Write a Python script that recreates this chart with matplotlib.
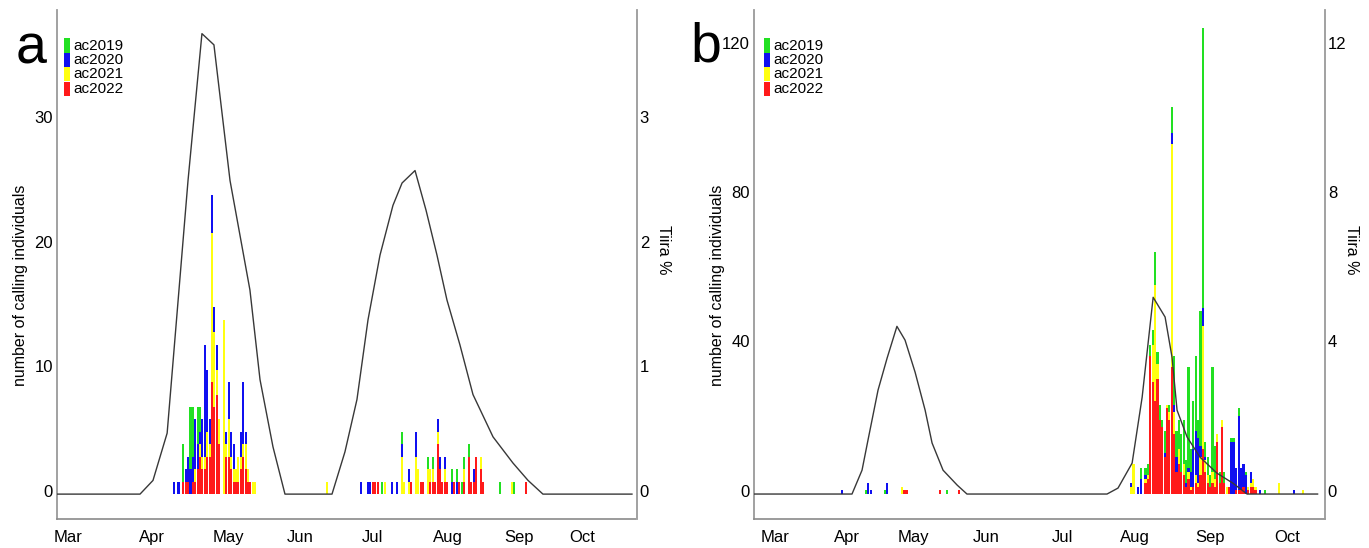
import matplotlib
matplotlib.use('Agg')
import matplotlib.pyplot as plt
from matplotlib.patches import Rectangle
from matplotlib.transforms import ScaledTranslation
import numpy as np

plt.rcParams['font.family'] = ['Liberation Sans', 'DejaVu Sans']

W, H = 1369, 548

years = ['ac2019', 'ac2020', 'ac2021', 'ac2022']
year_colors = ['#22e022', '#1010f0', '#ffff10', '#ff1a1a']
month_labels = ['Mar', 'Apr', 'May', 'Jun', 'Jul', 'Aug', 'Sep', 'Oct']

# ---------------- panel a ----------------
# day index counted from 1 March
a_days = [44, 46, 48, 49, 50, 51, 52, 53, 54, 55, 56, 57, 58, 59, 60, 61, 62, 63, 65, 66,
          67, 68, 69, 70, 71, 72, 73, 74, 75, 76, 77, 78,
          108, 122, 125, 126, 127, 128, 129, 131, 132, 135, 137, 139, 140, 142, 143, 145,
          146, 147, 148, 150, 151, 152, 153, 154, 155, 156, 157, 158, 160, 161, 162, 163,
          164, 165, 167, 168, 169, 170, 172, 173, 180, 185, 186, 191]
a_2022 = [0, 0, 1, 1, 1, 0, 1, 1, 2, 3, 2, 2, 3, 3, 9, 7, 8, 4, 0, 3, 3, 2, 1, 1, 1, 2, 3, 2, 1, 1, 0, 0,
          0, 0, 0, 0, 1, 1, 1, 0, 0, 0, 0, 0, 0, 0, 1, 0, 0, 1, 1, 0, 1, 1, 1, 4, 2, 1, 1, 1, 0, 1,
          0, 1, 0, 1, 3, 1, 1, 3, 2, 1, 0, 0, 0, 1]
a_2021 = [0, 0, 0, 0, 0, 0, 0, 1, 0, 1, 1, 1, 2, 1, 12, 6, 2, 2, 14, 1, 3, 1, 1, 1, 2, 1, 1, 2, 1, 0, 1, 1,
          1, 0, 0, 0, 0, 0, 0, 0, 1, 0, 0, 3, 1, 1, 0, 3, 2, 0, 0, 2, 1, 1, 0, 1, 0, 0, 1, 0, 0, 0,
          0, 0, 0, 1, 0, 0, 0, 0, 1, 0, 0, 1, 0, 0]
a_2020 = [1, 1, 0, 1, 2, 2, 2, 4, 2, 1, 3, 9, 5, 2, 3, 2, 2, 0, 0, 1, 3, 2, 2, 0, 0, 2, 5, 1, 0, 0, 0, 0,
          0, 1, 1, 1, 0, 0, 0, 0, 0, 1, 1, 1, 0, 1, 0, 2, 0, 0, 0, 0, 0, 0, 0, 1, 1, 0, 1, 0, 1, 0,
          1, 0, 0, 0, 0, 0, 1, 0, 0, 0, 0, 0, 0, 0]
a_2019 = [0, 0, 3, 0, 0, 5, 4, 0, 3, 2, 0, 0, 0, 0, 0, 0, 0, 0, 0, 0, 0, 0, 0, 0, 0, 0, 0, 0, 0, 0, 0, 0,
          0, 0, 0, 0, 0, 0, 0, 1, 0, 0, 0, 1, 0, 0, 0, 0, 0, 0, 0, 1, 0, 1, 0, 0, 0, 0, 0, 0, 1, 0,
          1, 0, 1, 1, 1, 0, 0, 0, 0, 0, 1, 0, 1, 0]
a_tiira_days = [-5, 30, 35.4, 41.3, 50, 55.8, 60.8, 67.5, 75.8, 80, 85.4, 90.4,
                110, 115.4, 120.4, 125, 130, 135.4, 139.2, 144.6, 149.2, 153.75, 157.9,
                163.3, 168.75, 177.1, 185.4, 191.7, 197.9, 235]
a_tiira_pct = [0, 0, 0.11, 0.49, 2.52, 3.70, 3.61, 2.52, 1.64, 0.92, 0.38, 0,
               0, 0.34, 0.76, 1.40, 1.92, 2.32, 2.50, 2.60, 2.28, 1.92, 1.56,
               1.20, 0.80, 0.46, 0.25, 0.11, 0, 0]
a_month_pos = [0, 35, 66.7, 96.7, 126.7, 158.3, 187.9, 214.2]
a_left_ticks = [0, 10, 20, 30]
a_right_ticks = [0, 1, 2, 3]

# ---------------- panel b ----------------
b_days = [28, 38, 39, 40, 46, 47, 53, 54, 55, 69, 72, 77,
          149, 150, 152, 153, 155, 156, 157, 158, 159, 160,
          161, 162, 163, 164, 165, 166, 167, 168, 169, 170,
          171, 172, 173, 174, 175, 176, 177, 178, 179, 180,
          181, 182, 183, 184, 185, 186, 187, 188, 189, 190,
          191, 192, 193, 194, 195, 196, 197, 198, 199, 200,
          201, 203, 205, 211, 217, 221]
b_2022 = [0, 0, 0, 0, 0, 0, 0, 1, 1, 1, 0, 1,
          0, 0, 0, 0, 3, 4, 37, 30, 25, 31,
          20, 18, 10, 23, 20, 34, 16, 6, 8, 6,
          5, 2, 4, 1, 2, 3, 2, 5, 12, 6,
          3, 2, 3, 2, 14, 3, 18, 3, 0, 2,
          0, 0, 1, 1, 1, 2, 0, 1, 2, 2,
          1, 0, 0, 0, 0, 0]
b_2021 = [0, 0, 0, 0, 0, 0, 2, 0, 0, 0, 0, 0,
          2, 8, 0, 0, 1, 1, 0, 10, 31, 4,
          0, 0, 0, 1, 2, 60, 6, 0, 4, 0,
          3, 0, 2, 1, 0, 2, 1, 5, 33, 3,
          2, 0, 3, 2, 2, 0, 2, 0, 2, 0,
          0, 0, 0, 0, 0, 0, 0, 1, 1, 2,
          1, 0, 0, 3, 0, 1]
b_2020 = [1, 0, 3, 1, 0, 3, 0, 0, 0, 0, 0, 0,
          1, 0, 2, 4, 1, 0, 0, 0, 0, 0,
          0, 0, 1, 0, 0, 3, 2, 4, 0, 0,
          0, 1, 1, 4, 10, 12, 12, 3, 5, 1,
          0, 0, 0, 0, 0, 0, 0, 0, 0, 0,
          14, 14, 6, 20, 6, 6, 5, 0, 3, 0,
          0, 1, 0, 0, 1, 0]
b_2019 = [0, 1, 0, 0, 1, 0, 0, 0, 0, 0, 1, 0,
          0, 0, 0, 3, 2, 3, 3, 4, 9, 3,
          4, 2, 6, 0, 2, 7, 13, 7, 8, 10,
          12, 6, 27, 6, 13, 20, 5, 36, 75, 4,
          5, 3, 28, 9, 0, 3, 0, 3, 0, 0,
          1, 1, 0, 2, 0, 0, 1, 0, 0, 0,
          0, 0, 1, 0, 0, 0]
b_tiira_days = [-9, 32.2, 36.4, 38.9, 43.1, 46.9, 51.0, 54.4, 58.6, 62.8, 65.7, 70.3, 76.2, 80.3,
                138.9, 143.5, 149.4, 153.6, 158.2, 163.2, 166.1, 168.2, 172.4, 177.8, 184.9,
                191.6, 197.5, 227]
b_tiira_pct = [0, 0, 0.64, 1.45, 2.79, 3.65, 4.50, 4.13, 3.27, 2.25, 1.37, 0.64, 0.24, 0,
               0, 0.16, 0.83, 2.60, 5.28, 4.75, 3.67, 2.25, 1.53, 0.99, 0.56,
               0.29, 0, 0]
b_month_pos = [0, 30.1, 57.7, 88.3, 120.1, 150.6, 182, 214.2]
b_left_ticks = [0, 40, 80, 120]
b_right_ticks = [0, 4, 8, 12]

fig = plt.figure(figsize=(W / 100, H / 100), dpi=100)
lift = ScaledTranslation(0, 3.5 / 100, fig.dpi_scale_trans)


def panel(rect, days, series, tdays, tpct, xlim, ylim, lticks, rticks, mpos,
          letter, letter_xy, legend_x, ylab_x):
    ax = fig.add_axes([rect[0] / W, (H - rect[3]) / H, (rect[1] - rect[0]) / W, (rect[3] - rect[2]) / H])
    bottom = np.zeros(len(days))
    # stack order bottom->top: 2022, 2021, 2020, 2019
    for vals, col in zip(series[::-1], year_colors[::-1]):
        v = np.array(vals, dtype=float)
        ax.bar(days, v, bottom=bottom, width=0.9, color=col, linewidth=0)
        bottom += v
    ax.set_xlim(*xlim)
    ax.set_ylim(*ylim)
    ax.set_yticks(lticks)
    ax.set_xticks(mpos)
    ax.set_xticklabels(month_labels)
    ax.tick_params(axis='both', length=0, labelsize=12)
    ax.tick_params(axis='y', pad=3)
    ax.tick_params(axis='x', pad=8)
    for lab in ax.get_yticklabels():
        lab.set_transform(lab.get_transform() + lift)
    ax.spines['top'].set_visible(False)
    ax.spines['right'].set_visible(False)
    ax.spines['left'].set_color('#9a9a9a')
    ax.spines['left'].set_linewidth(1.3)
    ax.spines['bottom'].set_color('#8a8a8a')
    ax.spines['bottom'].set_linestyle((0, (1, 1)))
    ax.spines['bottom'].set_linewidth(1.2)
    ax.set_ylabel('number of calling individuals', fontsize=11.5)
    ax.yaxis.set_label_coords(ylab_x, 0.46)

    ax2 = ax.twinx()
    ax2.plot(tdays, tpct, color='#383838', lw=1.0)
    ax2.set_ylim(ylim[0] / 10, ylim[1] / 10)
    ax2.set_yticks(rticks)
    ax2.tick_params(axis='y', length=0, labelsize=12, pad=2)
    for lab in ax2.get_yticklabels():
        lab.set_transform(lab.get_transform() + lift)
    for s in ['top', 'left', 'bottom']:
        ax2.spines[s].set_visible(False)
    ax2.spines['right'].set_color('#9a9a9a')
    ax2.spines['right'].set_linewidth(1.3)
    ax2.set_ylabel('Tiira %', fontsize=11.5, rotation=270, va='center')
    ax2.yaxis.set_label_coords(1.046, 0.528)

    fig.text(letter_xy[0] / W, 1 - letter_xy[1] / H, letter, fontsize=40,
             ha='center', va='baseline')
    for i, (lab, col) in enumerate(zip(years, year_colors)):
        ytop = 38 + i * 14.5
        fig.add_artist(Rectangle((legend_x / W, 1 - (ytop + 14.5) / H), 6 / W, 14.5 / H,
                                 transform=fig.transFigure, color=col, linewidth=0))
        fig.text((legend_x + 9) / W, 1 - (ytop + 7.5) / H, lab, fontsize=11,
                 ha='left', va='center')
    return ax


panel((57, 637, 10, 519), a_days, [a_2019, a_2020, a_2021, a_2022],
      a_tiira_days, a_tiira_pct, (-4.6, 237.1), (-2.0, 38.9),
      a_left_ticks, a_right_ticks, a_month_pos, 'a', (31, 63), 64, -0.050)
panel((754, 1325, 10, 519), b_days, [b_2019, b_2020, b_2021, b_2022],
      b_tiira_days, b_tiira_pct, (-8.8, 230.1), (-6.7, 129.9),
      b_left_ticks, b_right_ticks, b_month_pos, 'b', (706, 62), 764, -0.050)

fig.savefig('out.png', dpi=100)
